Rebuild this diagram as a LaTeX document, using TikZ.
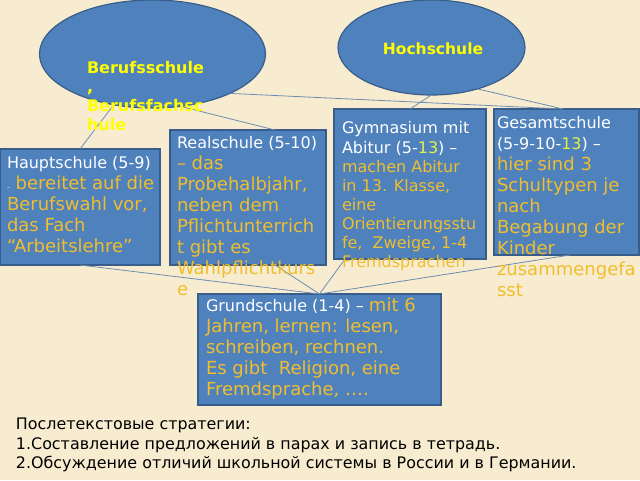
\documentclass[tikz,border=0pt]{standalone}
\usepackage{fontspec}
\setmainfont{DejaVu Sans}
\usetikzlibrary{calc,shapes.geometric}
\definecolor{bg}{RGB}{248,236,208}
\definecolor{boxblue}{RGB}{79,129,189}
\definecolor{boxedge}{RGB}{56,93,138}
\definecolor{txtor}{RGB}{240,190,45}
\definecolor{yel}{RGB}{255,255,0}
\definecolor{yelnum}{RGB}{225,240,70}
\definecolor{connclr}{RGB}{110,140,178}
\begin{document}
\begin{tikzpicture}[x=1pt,y=-1pt,
  schoolbox/.style={draw=boxedge, fill=boxblue, line width=1.2pt, rectangle, inner sep=0pt, outer sep=0pt, anchor=north west},
  schoolell/.style={draw=boxedge, fill=boxblue, line width=1.2pt, ellipse, inner sep=0pt, outer sep=0pt},
  boxtext/.style={anchor=north west, inner sep=0pt, outer sep=0pt, align=left, text=txtor},
  elltext/.style={inner sep=0pt, outer sep=0pt, align=left, text=yel, font=\bfseries\fontsize{16}{18.7}\selectfont},
  connector/.style={draw=connclr, line width=0.8pt}
]
\useasboundingbox (0,0) rectangle (640,480);
\fill[bg] (0,0) rectangle (640,480);

% shapes
\node[schoolell, minimum width=226pt, minimum height=108pt] (beruf) at (152.5,54) {};
\node[schoolell, minimum width=187pt, minimum height=95pt] (hoch) at (431.5,47.5) {};
\node[schoolbox, minimum width=160pt, minimum height=116pt] (haupt) at (0,149) {};
\node[schoolbox, minimum width=156pt, minimum height=135pt] (real) at (170,130) {};
\node[schoolbox, minimum width=152pt, minimum height=150pt] (gym) at (334,109) {};
\node[schoolbox, minimum width=145pt, minimum height=146pt] (ges) at (494,109) {};
\node[schoolbox, minimum width=243pt, minimum height=111pt] (grund) at (198,294) {};

% connectors
\draw[connector] (beruf) -- (haupt.north);
\draw[connector] (beruf.298) -- ([xshift=105pt]real.north west);
\draw[connector] (beruf.333) -- ([xshift=-3.5pt]ges.north);
\draw[connector] (hoch.south) -- (gym.north);
\draw[connector] (hoch.318) -- ([xshift=-3.5pt]ges.north);
\draw[connector] (haupt.south) -- (grund.north);
\draw[connector] ([xshift=105pt]real.south west) -- (grund.north);
\draw[connector] ([xshift=11pt]gym.south west) -- (grund.north);
\draw[connector] ([xshift=3.5pt]ges.south) -- (grund.north);

% ellipse texts
\node[elltext, anchor=north west] (beruftext) at (87,61.8) {Berufsschule\\,\\Berufsfachsc\\hule};
\node[elltext, anchor=base, font=\bfseries\fontsize{15.5}{18}\selectfont] (hochtext) at (433,54) {Hochschule};

% box texts
\node[boxtext, font=\fontsize{18}{20.8}\selectfont] (haupttext) at (7,156.8)
  {{\color{white}\fontsize{16}{20.8}\selectfont Hauptschule (5-9)}\\
   {\color{white}\fontsize{6}{20.8}\selectfont –} bereitet auf die\\
   Berufswahl vor,\\
   das Fach\\
   “Arbeitslehre”};
\node[boxtext, font=\fontsize{18}{21}\selectfont] (realtext) at (177,136.8)
  {{\color{white}\fontsize{16}{21}\selectfont Realschule (5-10)}\\
   – das\\
   Probehalbjahr,\\
   neben dem\\
   Pflichtunterrich\\
   t gibt es\\
   Wahlpflichtkurs\\
   e};
\node[boxtext, font=\fontsize{16}{19.1}\selectfont] (gymtext) at (342,121.8)
  {{\color{white}Gymnasium mit}\\
   {\color{white}Abitur (5-{\color{yelnum}13}) –}\\
   machen Abitur\\
   in 13. Klasse,\\
   eine\\
   Orientierungsstu\\
   fe,\ \ Zweige, 1-4\\
   Fremdsprachen};
\node[boxtext, font=\fontsize{18}{20.9}\selectfont] (gestext) at (497,116.8)
  {{\color{white}\fontsize{16}{20.9}\selectfont Gesamtschule}\\
   {\color{white}\fontsize{16}{20.9}\selectfont (5-9-10-{\color{yelnum}13}) –}\\
   hier sind 3\\
   Schultypen je\\
   nach\\
   Begabung der\\
   Kinder\\
   zusammengefa\\
   sst};
\node[boxtext, font=\fontsize{18}{20.8}\selectfont] (grundtext) at (206,298.3)
  {{\color{white}\fontsize{16}{20.8}\selectfont Grundschule (1-4) – }mit 6\\
   Jahren, lernen: lesen,\\
   schreiben, rechnen.\\
   Es gibt\ \ Religion, eine\\
   Fremdsprache, ….};

% bottom text
\node[anchor=north west, inner sep=0pt, outer sep=0pt, align=left, text=black, font=\fontsize{15.9}{19.2}\selectfont] (strat) at (16,418.4)
  {Послетекстовые стратегии:\\
   1.Составление предложений в парах и запись в тетрадь.\\
   2.Обсуждение отличий школьной системы в России и в Германии.};
\end{tikzpicture}
\end{document}
